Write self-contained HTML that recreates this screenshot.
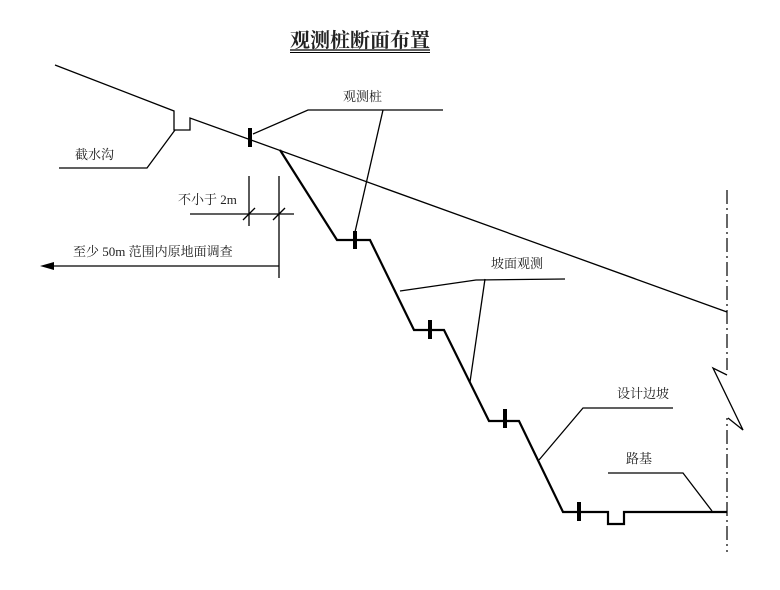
<!DOCTYPE html>
<html><head><meta charset="utf-8"><style>
html,body{margin:0;padding:0;background:#fff;}
svg text{font-family:"Liberation Serif","Noto Serif CJK SC",serif;fill:#222;}
</style></head><body>
<svg width="780" height="585" viewBox="0 0 780 585" xmlns="http://www.w3.org/2000/svg">
<text x="290" y="47" font-size="20" font-weight="bold" textLength="140">观测桩断面布置</text>
<line x1="290" y1="50" x2="430" y2="50" stroke="#000" stroke-width="1.2"/>
<line x1="290" y1="52.5" x2="430" y2="52.5" stroke="#000" stroke-width="1"/>
<line x1="727" y1="190" x2="727" y2="552" stroke="#000" stroke-width="1.2" stroke-dasharray="14,4,2,4"/>
<rect x="722" y="370" width="10" height="48" fill="#fff"/>
<g fill="none" stroke="#000" stroke-width="1.3">
<polyline points="55,65 174,111 174,130 190,130 190,118 727,312"/>
<polyline points="59,168 147,168 175,130"/>
<polyline points="253,134 308,110 443,110"/>
<line x1="383" y1="110" x2="355" y2="232"/>
<line x1="249" y1="176" x2="249" y2="226"/>
<line x1="279" y1="176" x2="279" y2="278"/>
<line x1="190" y1="214" x2="294" y2="214"/>
<line x1="243" y1="220" x2="255" y2="208"/>
<line x1="273" y1="220" x2="285" y2="208"/>
<line x1="48" y1="266" x2="279" y2="266"/>
<polyline points="400,291 476,280 565,279"/>
<line x1="485" y1="279" x2="470" y2="382"/>
<polyline points="539,460 583,408 673,408"/>
<polyline points="608,473 683,473 712,511"/>
<polyline points="727,375 713,368 743,430 728,418"/>
</g>
<polygon points="40,266 54,262 54,270" fill="#000"/>
<g fill="none" stroke="#000" stroke-width="2.2">
<polyline points="280,150 337,240 370,240 414,330 444,330 489,421 519,421 563,512 608,512 608,524 624,524 624,512 727,512"/>
</g>
<g stroke="#000" stroke-width="4">
<line x1="250" y1="128" x2="250" y2="147"/>
<line x1="355" y1="231" x2="355" y2="249"/>
<line x1="430" y1="320" x2="430" y2="339"/>
<line x1="505" y1="409" x2="505" y2="428"/>
<line x1="579" y1="502" x2="579" y2="521"/>
</g>
<g font-size="13">
<text x="343" y="101">观测桩</text>
<text x="75" y="159">截水沟</text>
<text x="178" y="204">不小于 2m</text>
<text x="73" y="256">至少 50m 范围内原地面调查</text>
<text x="491" y="268">坡面观测</text>
<text x="617" y="398">设计边坡</text>
<text x="626" y="463">路基</text>
</g>
</svg>
</body></html>
